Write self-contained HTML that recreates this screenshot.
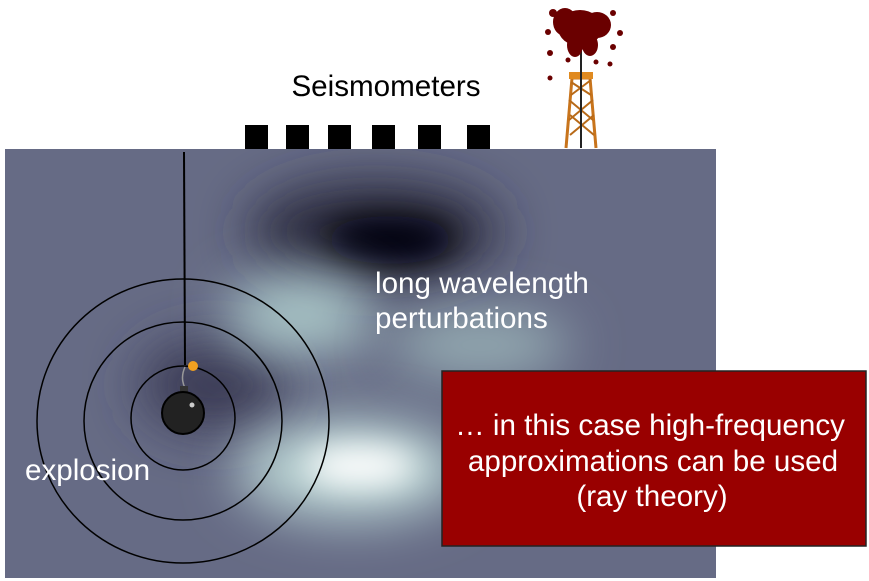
<!DOCTYPE html>
<html><head><style>
html,body{margin:0;padding:0;background:#fff;width:869px;height:581px;overflow:hidden}
</style></head><body>
<svg width="869" height="581" xmlns="http://www.w3.org/2000/svg" style="display:block">
<defs>
<filter id="b1" filterUnits="userSpaceOnUse" x="-200" y="0" width="1200" height="800"><feGaussianBlur stdDeviation="26"/></filter>
<filter id="b2" filterUnits="userSpaceOnUse" x="-200" y="0" width="1200" height="800"><feGaussianBlur stdDeviation="16"/></filter>
<clipPath id="c"><rect x="5" y="149" width="711" height="429"/></clipPath>
</defs>
<rect x="5" y="149" width="711" height="429" fill="#666b85"/>
<g clip-path="url(#c)">
<ellipse cx="375" cy="232" rx="125" ry="50" fill="#2a2b3c" filter="url(#b1)"/>
<ellipse cx="390" cy="240" rx="65" ry="24" fill="#05050a" filter="url(#b2)"/>
<ellipse cx="215" cy="385" rx="75" ry="45" fill="#3a3b55" filter="url(#b1)"/>
<ellipse cx="300" cy="315" rx="75" ry="40" fill="#a8c4c6" filter="url(#b1)"/>
<ellipse cx="480" cy="345" rx="90" ry="32" fill="#96adb4" filter="url(#b1)"/>
<ellipse cx="350" cy="470" rx="115" ry="50" fill="#b8d2d2" filter="url(#b1)"/>
<ellipse cx="360" cy="466" rx="55" ry="20" fill="#ffffff" filter="url(#b2)"/>
</g>
<g fill="#000">
<rect x="245" y="125" width="23" height="24"/><rect x="286" y="125" width="23" height="24"/>
<rect x="328" y="125" width="23" height="24"/><rect x="372" y="125" width="23" height="24"/>
<rect x="418" y="125" width="23" height="24"/><rect x="467" y="125" width="23" height="24"/>
</g>
<text x="386" y="96" font-family="Liberation Sans, sans-serif" font-size="29.6" text-anchor="middle" fill="#000">Seismometers</text>
<g>
<path d="M566 148 L572 78 L590 78 L596 148" fill="none" stroke="#c8741c" stroke-width="3"/>
<path d="M569 120 L593 100 M569 100 L593 120 M570 135 L594 115 M570 115 L594 135 M571 95 L591 80 M571 82 L591 95" stroke="#b86a18" stroke-width="2"/>
<rect x="569" y="72" width="24" height="7" fill="#e08a20"/>
<line x1="581" y1="148" x2="581" y2="30" stroke="#222" stroke-width="2"/>
<g fill="#6a0000">
<ellipse cx="580" cy="28" rx="22" ry="18"/><ellipse cx="565" cy="22" rx="12" ry="14"/><ellipse cx="597" cy="25" rx="14" ry="13"/>
<ellipse cx="575" cy="45" rx="8" ry="12"/><ellipse cx="590" cy="45" rx="8" ry="11"/>
<circle cx="553" cy="13" r="4"/><circle cx="613" cy="13" r="3"/><circle cx="548" cy="32" r="3"/><circle cx="620" cy="33" r="3"/>
<circle cx="550" cy="53" r="3"/><circle cx="613" cy="47" r="3"/><circle cx="568" cy="60" r="2.5"/><circle cx="596" cy="62" r="2.5"/><circle cx="550" cy="78" r="2.5"/><circle cx="610" cy="64" r="2.5"/>
</g>
</g>
<g fill="none" stroke="#000" stroke-width="1.5">
<circle cx="183" cy="418" r="52"/>
<circle cx="183" cy="421" r="99"/>
<ellipse cx="183" cy="421" rx="146" ry="142"/>
</g>
<line x1="184" y1="152" x2="185" y2="365" stroke="#000" stroke-width="2"/>
<path d="M185 367 Q180 378 185 388" stroke="#999" stroke-width="1.5" fill="none"/>
<circle cx="193" cy="366" r="5" fill="#f0a020"/>
<rect x="180" y="386" width="8" height="8" fill="#333"/>
<circle cx="183" cy="413" r="21" fill="#222" stroke="#000" stroke-width="2"/>
<circle cx="192" cy="405" r="2.5" fill="#ccc"/>
<text x="25" y="480" font-family="Liberation Sans, sans-serif" font-size="29.6" fill="#fff">explosion</text>
<text x="375" y="293" font-family="Liberation Sans, sans-serif" font-size="29.6" fill="#fff">long wavelength</text>
<text x="375" y="328" font-family="Liberation Sans, sans-serif" font-size="29.6" fill="#fff">perturbations</text>
<rect x="442" y="371" width="424" height="175" fill="#990000" stroke="#222" stroke-width="1.5"/>
<g font-family="Liberation Sans, sans-serif" font-size="29.6" fill="#fff" text-anchor="middle">
<text x="650" y="435">… in this case high-frequency</text>
<text x="653" y="471">approximations can be used</text>
<text x="652" y="506">(ray theory)</text>
</g>
</svg>
</body></html>
